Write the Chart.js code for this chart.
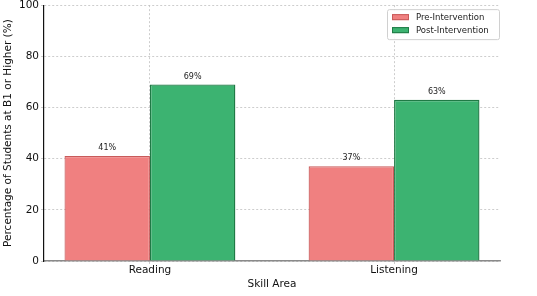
<!DOCTYPE html>
<html>
<head>
<meta charset="utf-8">
<script src="https://cdn.jsdelivr.net/npm/chart.js@4/dist/chart.umd.min.js"></script>
<style>
  html, body { margin: 0; padding: 0; background: #fff; }
  #wrap { width: 537px; height: 296px; }
</style>
</head>
<body>
<div id="wrap"><canvas id="chart"></canvas></div>
<script>
const categories = ["Reading", "Listening"];
const preValues = [41, 37];
const postValues = [69, 63];
const seriesNames = ["Pre-Intervention", "Post-Intervention"];
const yTicks = [0, 20, 40, 60, 80, 100];

const FONT = "'DejaVu Sans', sans-serif";

// bar value labels above each bar
const valueLabels = {
  id: "valueLabels",
  afterDatasetsDraw(chart) {
    const ctx = chart.ctx;
    ctx.save();
    ctx.font = "8px " + FONT;
    ctx.fillStyle = "#222";
    ctx.textAlign = "center";
    ctx.textBaseline = "bottom";
    chart.data.datasets.forEach((ds, i) => {
      chart.getDatasetMeta(i).data.forEach((bar, j) => {
        ctx.fillText(ds.data[j].y + "%", bar.x, bar.y - 4);
      });
    });
    ctx.restore();
  }
};

// matplotlib style legend box in the upper right
const boxLegend = {
  id: "boxLegend",
  afterDraw(chart) {
    const ctx = chart.ctx;
    const area = chart.chartArea;
    const w = 112, h = 30;
    const x0 = area.right - w - 1, y0 = area.top + 4;
    ctx.save();
    ctx.fillStyle = "rgba(255,255,255,0.9)";
    ctx.strokeStyle = "#d0d0d0";
    ctx.lineWidth = 1;
    ctx.beginPath();
    ctx.roundRect(x0 + 0.5, y0 + 0.5, w, h, 2);
    ctx.fill();
    ctx.stroke();
    ctx.font = "8.5px " + FONT;
    ctx.textBaseline = "middle";
    chart.data.datasets.forEach((ds, i) => {
      const cy = y0 + 8 + i * 13;
      ctx.fillStyle = ds.backgroundColor;
      ctx.strokeStyle = ds.borderColor;
      ctx.fillRect(x0 + 5, cy - 3, 17, 6);
      ctx.strokeRect(x0 + 5.5, cy - 2.5, 16, 5);
      ctx.fillStyle = "#222";
      ctx.fillText(ds.label, x0 + 29, cy + 1);
    });
    ctx.restore();
  }
};

new Chart(document.getElementById("chart"), {
  type: "bar",
  data: {
    datasets: [
      {
        label: seriesNames[0],
        data: categories.map((c, i) => ({ x: i, y: preValues[i] })),
        backgroundColor: "#f08080",
        borderColor: "#c85a5a",
        borderWidth: 1.2
      },
      {
        label: seriesNames[1],
        data: categories.map((c, i) => ({ x: i, y: postValues[i] })),
        backgroundColor: "#3cb371",
        borderColor: "#1f7a45",
        borderWidth: 1.4
      }
    ]
  },
  options: {
    responsive: true,
    maintainAspectRatio: false,
    animation: false,
    categoryPercentage: 0.7,
    barPercentage: 1,
    layout: { padding: { top: 4, right: 37, left: 0, bottom: 5 } },
    plugins: {
      legend: { display: false },
      tooltip: { enabled: false }
    },
    scales: {
      x: {
        type: "linear",
        min: -0.434,
        max: 1.434,
        offset: false,
        z: 1,
        afterBuildTicks: (scale) => {
          scale.ticks = categories.map((c, i) => ({ value: i }));
        },
        afterFit: (scale) => { scale.height = 30; },
        ticks: {
          callback: (v) => categories[v],
          color: "#111",
          font: { family: FONT, size: 10.5 },
          padding: 0,
          maxRotation: 0
        },
        grid: {
          offset: false,
          color: "#c0c0c0",
          lineWidth: 0.8,
          tickLength: 3
        },
        border: { display: true, color: "#8a8a8a", width: 1.5, dash: [2, 2] },
        title: {
          display: true,
          text: "Skill Area",
          color: "#111",
          font: { family: FONT, size: 10.5 },
          padding: { top: 0, bottom: 0 }
        }
      },
      y: {
        min: 0,
        max: 100,
        z: 1,
        afterBuildTicks: (scale) => {
          scale.ticks = yTicks.map((v) => ({ value: v }));
        },
        afterFit: (scale) => { scale.width = 44; },
        ticks: {
          color: "#111",
          font: { family: FONT, size: 10.5, lineHeight: 0.6 },
          padding: 2
        },
        grid: {
          color: "#c0c0c0",
          lineWidth: 0.8,
          tickLength: 3
        },
        border: { display: true, color: "#111", width: 1.2, dash: [2, 2] },
        title: {
          display: true,
          text: "Percentage of Students at B1 or Higher (%)",
          color: "#111",
          font: { family: FONT, size: 10.5 },
          padding: { top: 2, bottom: 2 }
        }
      }
    }
  },
  plugins: [valueLabels, boxLegend]
});
</script>
</body>
</html>
